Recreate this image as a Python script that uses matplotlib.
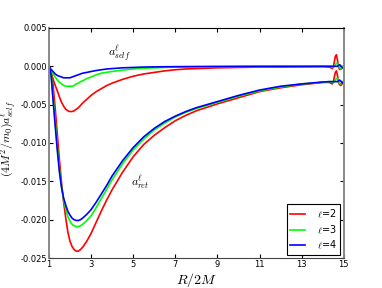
import numpy as np
import matplotlib
matplotlib.use('Agg')
import matplotlib.pyplot as plt

plt.rcParams['mathtext.fontset'] = 'cm'

# radial positions R/2M
R = [1.0, 1.1, 1.2, 1.3, 1.4, 1.5, 1.6, 1.7, 1.8, 1.9,
     2.0, 2.1, 2.2, 2.3, 2.4, 2.5, 2.6, 2.8, 3.0, 3.25,
     3.5, 3.75, 4.0, 4.5, 5.0, 5.5, 6.0, 6.5, 7.0, 7.5,
     8.0, 9.0, 10.0, 11.0, 12.0, 13.0, 14.0, 14.3,
     14.4, 14.45, 14.5, 14.55, 14.6, 14.65, 14.7, 14.75, 14.8, 14.85, 14.9, 14.95, 15.0]

# retarded force, l = 2, 3, 4
ret_l2 = [0, -0.0006, -0.0025, -0.0055, -0.0089, -0.0122, -0.0152, -0.0177, -0.0198, -0.0216,
          -0.0228, -0.0235, -0.0239, -0.0241, -0.0241, -0.0239, -0.0236, -0.0228, -0.0218, -0.0203,
          -0.0188, -0.0174, -0.0161, -0.0138, -0.0118, -0.0102, -0.0090, -0.0080, -0.0071, -0.0064,
          -0.0058, -0.0049, -0.0041, -0.0033, -0.0028, -0.0024, -0.0021, -0.0021,
          -0.0022, -0.0023, -0.0021, -0.0014, -0.0008, -0.0006, -0.0012, -0.0021, -0.0024, -0.0025, -0.0024, -0.0021, -0.0020]
ret_l3 = [0, -0.0009, -0.0040, -0.0072, -0.0105, -0.0134, -0.0157, -0.0174, -0.0186, -0.0196,
          -0.0202, -0.0206, -0.0208, -0.0209, -0.0209, -0.0208, -0.0206, -0.0201, -0.0195, -0.0184,
          -0.0172, -0.0160, -0.0148, -0.0127, -0.0109, -0.0095, -0.0083, -0.0074, -0.0066, -0.0060,
          -0.0055, -0.0047, -0.0039, -0.0032, -0.0027, -0.0023, -0.0021, -0.0020,
          -0.0020, -0.0021, -0.0021, -0.0020, -0.0018, -0.0016, -0.0016, -0.0019, -0.0022, -0.0023, -0.0022, -0.0020, -0.0019]
ret_l4 = [0, -0.0010, -0.0045, -0.0078, -0.0110, -0.0138, -0.0158, -0.0172, -0.0181, -0.0189,
          -0.0194, -0.0198, -0.0200, -0.0201, -0.0201, -0.0200, -0.0198, -0.0193, -0.0187, -0.0177,
          -0.0166, -0.0155, -0.0143, -0.0123, -0.0106, -0.0092, -0.0081, -0.0072, -0.0065, -0.0059,
          -0.0054, -0.0046, -0.0038, -0.0031, -0.0026, -0.0023, -0.00205, -0.0020,
          -0.0020, -0.0020, -0.0020, -0.0020, -0.0020, -0.0020, -0.0020, -0.0019, -0.0018, -0.0019, -0.0021, -0.0022, -0.00195]

# self force, l = 2, 3, 4
self_l2 = [0, -0.0008, -0.0017, -0.0025, -0.0032, -0.0040, -0.0047, -0.0052, -0.0056, -0.0058,
           -0.0059, -0.0059, -0.0058, -0.0056, -0.0054, -0.0051, -0.0048, -0.0043, -0.0038, -0.0033,
           -0.0029, -0.0025, -0.0022, -0.0017, -0.0013, -0.0010, -0.0008, -0.0006, -0.00045, -0.00035,
           -0.0003, -0.0002, -0.00015, -0.0001, -0.0001, -0.00008, -0.00005, -0.0001,
           -0.0002, -0.0003, -0.0001, 0.0006, 0.0013, 0.0015, 0.0008, -0.0001, -0.0004, -0.0004, -0.0003, -0.0001, 0.0]
self_l3 = [0, -0.0005, -0.0010, -0.0014, -0.0018, -0.0021, -0.0023, -0.0025, -0.0026, -0.0026,
           -0.0026, -0.0026, -0.0025, -0.0023, -0.0022, -0.0020, -0.0019, -0.0016, -0.0014, -0.0011,
           -0.0009, -0.00078, -0.00068, -0.0005, -0.00035, -0.00025, -0.0002, -0.00015, -0.0001, -0.0001,
           -0.00008, -0.00005, -0.00004, -0.00003, -0.00002, -0.00002, -0.00001, 0.0,
           0.0, -0.0001, -0.0001, 0.0, 0.0002, 0.0004, 0.0004, 0.0001, -0.0002, -0.0003, -0.0002, 0.0, 0.0]
self_l4 = [0, -0.0004, -0.0007, -0.0010, -0.0012, -0.0013, -0.0014, -0.0015, -0.0015, -0.0015,
           -0.0015, -0.0014, -0.0013, -0.0012, -0.0011, -0.0010, -0.0009, -0.0008, -0.00068, -0.00055,
           -0.00045, -0.00035, -0.0003, -0.0002, -0.00015, -0.0001, -0.00008, -0.00006, -0.00005, -0.00004,
           -0.00003, -0.00002, -0.00001, 0.0, 0.0, 0.0, 0.0, 0.0,
           0.0, 0.0, 0.0, 0.0, 0.0, 0.0, 0.0, 0.0001, 0.0002, 0.0001, -0.0001, -0.0002, -0.0001]

labels = [r'$\ell$=2', r'$\ell$=3', r'$\ell$=4']
colors = ['#ff0000', '#00ff00', '#0000ff']
xticks = [1, 3, 5, 7, 9, 11, 13, 15]
yticks = [0.005, 0.0, -0.005, -0.010, -0.015, -0.020, -0.025]

fig = plt.figure(figsize=(3.82, 2.88), dpi=100)
ax = fig.add_axes([0.128, 0.104, 0.772, 0.799])

for ret, slf, c, lab in zip([ret_l2, ret_l3, ret_l4], [self_l2, self_l3, self_l4], colors, labels):
    ax.plot(R, ret, color=c, lw=1.2, label=lab)
    ax.plot(R, slf, color=c, lw=1.2)

ax.set_xlim(1, 15)
ax.set_ylim(-0.025, 0.005)
ax.set_xticks(xticks)
ax.set_yticks(yticks)
ax.set_yticklabels(['%.3f' % v if v != 0 else '0.000' for v in yticks])
ax.tick_params(direction='in', top=True, right=True, labelsize=6, length=3, pad=1.5)
ax.set_xlabel(r'$R/2M$', fontsize=10, labelpad=1)
ax.set_ylabel(r'$(4M^2/m_0)a^\ell_{self}$', fontsize=8.5)
ax.yaxis.set_label_coords(-0.102, 0.52)

for side in ['left', 'right']:
    ax.spines[side].set_color('#888888')
    ax.spines[side].set_linewidth(1.4)
ax.spines['bottom'].set_color('#444444')

ax.text(4.37, 0.0017, r'$a^\ell_{self}$', fontsize=8.5, ha='center', va='center')
ax.text(5.32, -0.0152, r'$a^\ell_{ret}$', fontsize=8.5, ha='center', va='center')

leg = ax.legend(loc='lower right', fontsize=7, fancybox=False, framealpha=1,
                edgecolor='black', handlelength=1.5, borderpad=0.4, labelspacing=0.3,
                handletextpad=1.2, borderaxespad=0.35)
leg.get_frame().set_linewidth(0.8)

fig.savefig('out.png', dpi=100)
